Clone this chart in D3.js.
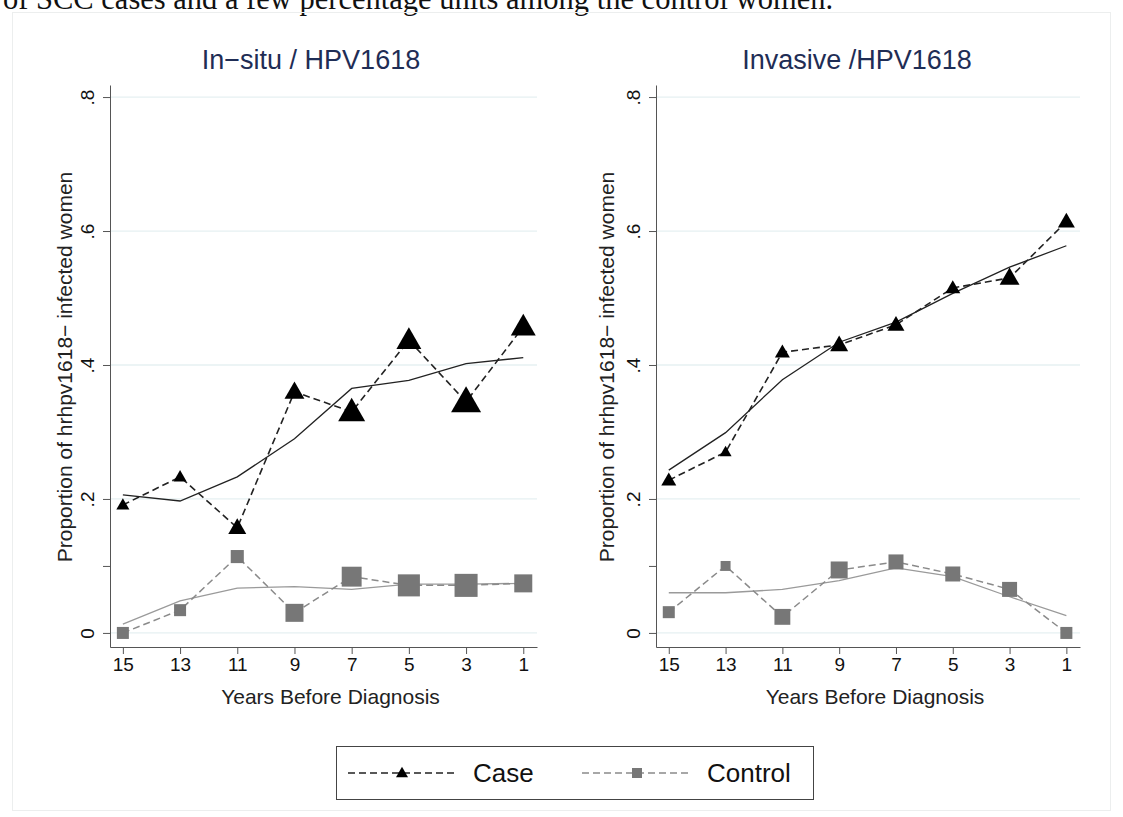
<!DOCTYPE html>
<html>
<head>
<meta charset="utf-8">
<script src="https://cdn.jsdelivr.net/npm/d3@7"></script>
<style>
  body { margin: 0; background: #fff; }
  svg { display: block; font-family: "Liberation Sans", Arial, sans-serif; }
</style>
</head>
<body>
<div id="chart"></div>
<script>
// data
var years = [15, 13, 11, 9, 7, 5, 3, 1];
var yTicks = [0, 0.2, 0.4, 0.6, 0.8];
var yMinorTicks = [0.1];

var insituCase        = [0.191, 0.233, 0.157, 0.360, 0.330, 0.437, 0.345, 0.457];
var insituCaseFit     = [0.206, 0.197, 0.233, 0.290, 0.365, 0.377, 0.402, 0.411];
var insituControl     = [0.000, 0.034, 0.114, 0.030, 0.084, 0.071, 0.071, 0.074];
var insituControlFit  = [0.013, 0.048, 0.067, 0.069, 0.065, 0.073, 0.073, 0.074];
var insituCaseWeight    = [19, 19, 36, 44, 81, 69, 100, 69];
var insituControlWeight = [16, 16, 19, 36, 44, 54, 59, 36];

var invasiveCase       = [0.228, 0.270, 0.419, 0.430, 0.460, 0.515, 0.530, 0.614];
var invasiveCaseFit    = [0.243, 0.299, 0.378, 0.434, 0.464, 0.507, 0.546, 0.578];
var invasiveControl    = [0.031, 0.100, 0.024, 0.094, 0.106, 0.088, 0.065, 0.000];
var invasiveControlFit = [0.060, 0.060, 0.065, 0.078, 0.097, 0.084, 0.054, 0.026];
var invasiveCaseWeight    = [25, 16, 25, 36, 32, 25, 44, 32];
var invasiveControlWeight = [16, 11, 28, 32, 25, 25, 25, 16];

var panelTitles = ["In\u2212situ / HPV1618", "Invasive /HPV1618"];
var seriesNames = ["Case", "Control"];
var xTitle = "Years Before Diagnosis";
var yTitle = "Proportion of hrhpv1618\u2212 infected women";
var topText = "of SCC cases and a few percentage units among the control women.";

var W = 1123, H = 817;
var svg = d3.select("#chart").append("svg")
    .attr("width", W)
    .attr("height", H);

// sentence of the surrounding page, cut at the top edge
svg.append("text")
    .attr("x", 3).attr("y", 9)
    .style("font-family", "'Liberation Serif', 'Times New Roman', serif")
    .style("font-size", "30.5px")
    .attr("fill", "#111")
    .text(topText);

// faint graph region border
svg.append("rect")
    .attr("x", 12.5).attr("y", 12.5)
    .attr("width", 1098).attr("height", 798)
    .attr("fill", "none")
    .attr("stroke", "#eceeee");

var size = d3.scaleSqrt().domain([0, 100]).range([0, 30]);

var fmt = function(d) { return d === 0 ? "0" : d3.format(".1f")(d).replace(/^0/, ""); };

function triangle(w) {
  var h = w * 0.87;
  return "M0," + (-h * 0.6) + "L" + (w / 2) + "," + (h * 0.4) + "L" + (-w / 2) + "," + (h * 0.4) + "Z";
}

function drawPanel(p) {
  var g = svg.append("g")
      .attr("transform", "translate(" + p.left + ",85)");
  var width = p.width, height = 562;

  var x = d3.scaleLinear().domain([15.45, 0.52]).range([0, width]);
  var y = d3.scaleLinear().domain([-0.021, 0.818]).range([height, 0]);

  // gridlines
  g.selectAll(".grid")
    .data(yTicks)
    .enter().append("line")
      .attr("x1", 0).attr("x2", width)
      .attr("y1", function(d) { return y(d); })
      .attr("y2", function(d) { return y(d); })
      .attr("stroke", "#e6f0f2")
      .attr("stroke-width", 1.3);

  // y axis
  var ya = g.append("g")
      .call(d3.axisLeft(y).tickValues(yTicks).tickFormat(fmt).tickSize(7).tickSizeOuter(0));
  ya.select(".domain").attr("stroke", "#555");
  ya.selectAll(".tick line").attr("stroke", "#555");
  ya.selectAll(".tick text")
      .attr("x", 0).attr("dy", 0)
      .attr("text-anchor", "middle")
      .attr("transform", "translate(-16,0) rotate(-90)")
      .style("font-size", "19px")
      .attr("fill", "#111");
  var ym = g.append("g")
      .call(d3.axisLeft(y).tickValues(yMinorTicks).tickFormat("").tickSize(7).tickSizeOuter(0));
  ym.select(".domain").remove();
  ym.selectAll(".tick line").attr("stroke", "#555");

  // x axis
  var xa = g.append("g")
      .attr("transform", "translate(0," + height + ")")
      .call(d3.axisBottom(x).tickValues(years).tickSize(7).tickSizeOuter(0));
  xa.select(".domain").attr("stroke", "#555");
  xa.selectAll(".tick line").attr("stroke", "#555");
  xa.selectAll(".tick text")
      .attr("y", 11)
      .attr("dy", "0.71em")
      .style("font-size", "19px")
      .attr("fill", "#111");

  // titles
  g.append("text")
      .attr("x", p.titleX).attr("y", -16)
      .attr("text-anchor", "middle")
      .style("font-size", "27px")
      .attr("fill", "#1f2d55")
      .text(p.title);
  g.append("text")
      .attr("x", width / 2 + 7).attr("y", height + 57)
      .attr("text-anchor", "middle")
      .style("font-size", "21px")
      .attr("fill", "#222")
      .text(xTitle);
  g.append("text")
      .attr("transform", "translate(" + p.yTitleX + ",282) rotate(-90)")
      .attr("text-anchor", "middle")
      .style("font-size", "21px")
      .attr("fill", "#222")
      .text(yTitle);

  var line = d3.line()
      .x(function(d, i) { return x(years[i]); })
      .y(function(d) { return y(d); });

  // fitted lines
  g.append("path").datum(p.controlFit)
      .attr("d", line).attr("fill", "none")
      .attr("stroke", "#9a9a9a").attr("stroke-width", 1.3);
  g.append("path").datum(p.caseFit)
      .attr("d", line).attr("fill", "none")
      .attr("stroke", "#222").attr("stroke-width", 1.3);

  // observed, dashed
  g.append("path").datum(p.control)
      .attr("d", line).attr("fill", "none")
      .attr("stroke", "#8a8a8a").attr("stroke-width", 1.5)
      .attr("stroke-dasharray", "7,4");
  g.append("path").datum(p.cases)
      .attr("d", line).attr("fill", "none")
      .attr("stroke", "#222").attr("stroke-width", 1.6)
      .attr("stroke-dasharray", "7,4");

  g.selectAll(".sq")
    .data(p.control)
    .enter().append("rect")
      .attr("x", function(d, i) { return x(years[i]) - size(p.controlW[i]) / 2; })
      .attr("y", function(d, i) { return y(d) - size(p.controlW[i]) / 2; })
      .attr("width", function(d, i) { return size(p.controlW[i]); })
      .attr("height", function(d, i) { return size(p.controlW[i]); })
      .attr("fill", "#777");

  g.selectAll(".tri")
    .data(p.cases)
    .enter().append("path")
      .attr("transform", function(d, i) { return "translate(" + x(years[i]) + "," + y(d) + ")"; })
      .attr("d", function(d, i) { return triangle(size(p.caseW[i])); })
      .attr("fill", "#000");
}

drawPanel({left: 110, width: 427, title: panelTitles[0], titleX: 201, yTitleX: -38,
  cases: insituCase, caseFit: insituCaseFit, control: insituControl, controlFit: insituControlFit,
  caseW: insituCaseWeight, controlW: insituControlWeight});
drawPanel({left: 656, width: 424, title: panelTitles[1], titleX: 201, yTitleX: -42,
  cases: invasiveCase, caseFit: invasiveCaseFit, control: invasiveControl, controlFit: invasiveControlFit,
  caseW: invasiveCaseWeight, controlW: invasiveControlWeight});

// legend
var lg = svg.append("g");
lg.append("rect")
    .attr("x", 336.5).attr("y", 746.5)
    .attr("width", 477).attr("height", 53)
    .attr("fill", "#fff").attr("stroke", "#444");

var legendItems = [
  {name: seriesNames[0], x0: 348, color: "#222", mark: "tri"},
  {name: seriesNames[1], x0: 582, color: "#8a8a8a", mark: "sq"}
];
legendItems.forEach(function(it) {
  lg.append("line")
      .attr("x1", it.x0).attr("x2", it.x0 + 107)
      .attr("y1", 773).attr("y2", 773)
      .attr("stroke", it.color).attr("stroke-width", 1.5)
      .attr("stroke-dasharray", "7,4");
  if (it.mark === "tri") {
    lg.append("path")
        .attr("transform", "translate(" + (it.x0 + 54) + ",773)")
        .attr("d", triangle(12))
        .attr("fill", "#000");
  } else {
    lg.append("rect")
        .attr("x", it.x0 + 50).attr("y", 768)
        .attr("width", 10).attr("height", 10)
        .attr("fill", "#777");
  }
  lg.append("text")
      .attr("x", it.x0 + 125).attr("y", 782)
      .style("font-size", "26px")
      .attr("fill", "#111")
      .text(it.name);
});
</script>
</body>
</html>
